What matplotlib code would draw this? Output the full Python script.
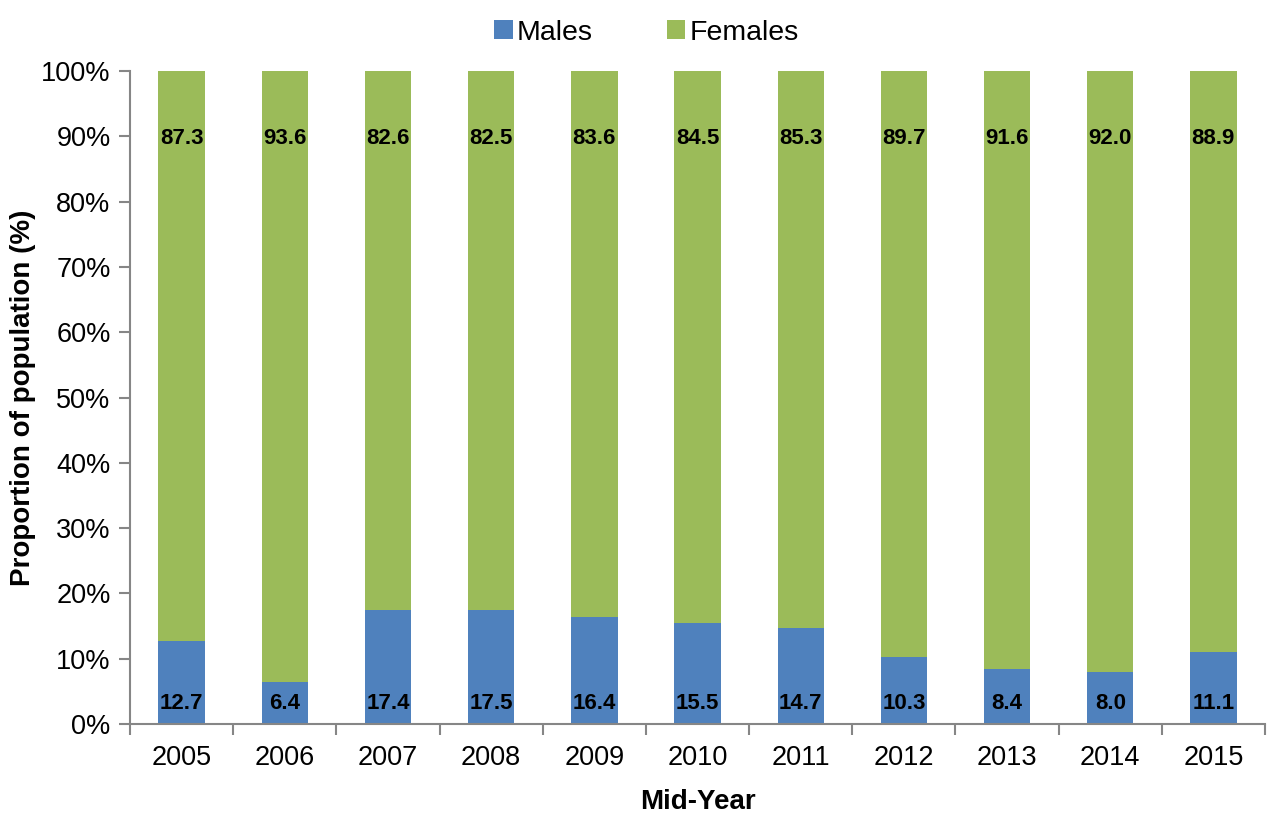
import numpy as np
import matplotlib
matplotlib.use("Agg")
import matplotlib.pyplot as plt
from matplotlib.ticker import FixedLocator

years = ["2005", "2006", "2007", "2008", "2009", "2010", "2011", "2012", "2013", "2014", "2015"]
males = [12.7, 6.4, 17.4, 17.5, 16.4, 15.5, 14.7, 10.3, 8.4, 8.0, 11.1]
females = [87.3, 93.6, 82.6, 82.5, 83.6, 84.5, 85.3, 89.7, 91.6, 92.0, 88.9]

blue = "#4F81BD"
green = "#9BBB59"
axis_grey = "#868686"

plt.rcParams['font.family'] = ['Liberation Sans', 'DejaVu Sans']

fig = plt.figure(figsize=(12.8, 8.16), dpi=100)
ax = fig.add_axes([0.1016, 0.1127, 0.8867, 0.8003])

x = np.arange(len(years))
w = 0.45
ax.bar(x, males, width=w, color=blue, label="Males")
ax.bar(x, females, width=w, bottom=males, color=green, label="Females")

# labels sit at fixed heights like Excel's inside-base / inside-end
for xi, m, f in zip(x, males, females):
    ax.text(xi, 3.2, f"{m:.1f}", ha="center", va="center", fontsize=16, fontweight="bold")
    ax.text(xi, 89.6, f"{f:.1f}", ha="center", va="center", fontsize=16, fontweight="bold")

ax.set_xlim(-0.5, len(years) - 0.5)
ax.set_ylim(0, 100)
ax.set_yticks(np.arange(0, 101, 10))
ax.set_yticklabels([f"{v}%" for v in range(0, 101, 10)])
ax.set_xticks(x)
ax.set_xticklabels(years)
ax.xaxis.set_minor_locator(FixedLocator(np.arange(-0.5, len(years), 1.0)))
ax.tick_params(axis="x", which="major", length=0, labelsize=19.5, pad=15)
ax.tick_params(axis="x", which="minor", length=8, width=1.5, color=axis_grey, direction="out")
ax.tick_params(axis="y", length=8, width=1.5, color=axis_grey, labelsize=19.5, pad=6)

for s in ["top", "right"]:
    ax.spines[s].set_visible(False)
for s in ["left", "bottom"]:
    ax.spines[s].set_color(axis_grey)
    ax.spines[s].set_linewidth(1.5)

ax.set_xlabel("Mid-Year", fontsize=20, fontweight="bold", labelpad=13)
ax.set_ylabel("Proportion of population (%)", fontsize=20, fontweight="bold", labelpad=4)

ax.legend(loc="upper center", bbox_to_anchor=(0.455, 1.118), ncol=2, frameon=False,
          fontsize=20.5, handlelength=0.65, handleheight=0.65, handletextpad=0.15,
          columnspacing=2.6)

fig.savefig("out.png", dpi=100)
